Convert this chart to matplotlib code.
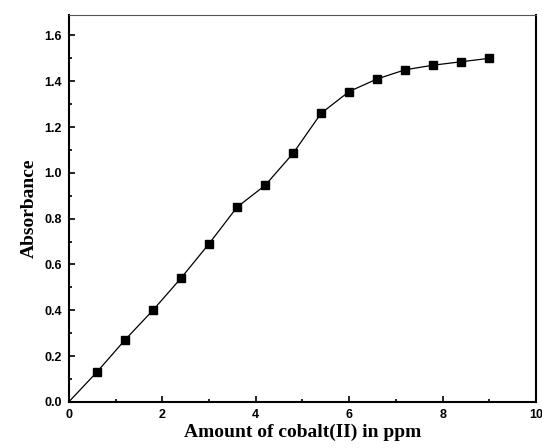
import numpy as np
import matplotlib
matplotlib.use('Agg')
import matplotlib.pyplot as plt
from matplotlib.ticker import MultipleLocator, FormatStrFormatter

# data
cobalt_ppm = [0.6, 1.2, 1.8, 2.4, 3.0, 3.6, 4.2, 4.8, 5.4, 6.0, 6.6, 7.2, 7.8, 8.4, 9.0]
absorbance = [0.13, 0.27, 0.40, 0.54, 0.69, 0.85, 0.945, 1.085, 1.26, 1.355, 1.41, 1.45, 1.47, 1.485, 1.50]

fig = plt.figure(figsize=(5.42, 4.48), dpi=100)
ax = fig.add_axes([0.127, 0.103, 0.862, 0.864])

# line starts at the origin, markers only on measured points
ax.plot([0] + cobalt_ppm, [0] + absorbance, color='black', lw=0.9)
ax.plot(cobalt_ppm, absorbance, 's', color='black', ms=5.5)

ax.set_xlim(0, 10)
ax.set_ylim(0, 1.69)
ax.xaxis.set_major_locator(MultipleLocator(2))
ax.xaxis.set_minor_locator(MultipleLocator(1))
ax.yaxis.set_major_locator(MultipleLocator(0.2))
ax.yaxis.set_minor_locator(MultipleLocator(0.1))
ax.xaxis.set_major_formatter(FormatStrFormatter('%d'))
ax.yaxis.set_major_formatter(FormatStrFormatter('%.1f'))

ax.tick_params(which='both', direction='in', width=1.2, labelsize=9)
ax.tick_params(which='major', length=4, pad=5)
ax.tick_params(which='minor', length=2)
for lbl in ax.get_xticklabels() + ax.get_yticklabels():
    lbl.set_fontweight('bold')
    lbl.set_family('Liberation Sans')

for side in ['left', 'bottom', 'right']:
    ax.spines[side].set_linewidth(1.5)
ax.spines['top'].set_linewidth(0.8)
ax.spines['top'].set_color('#555555')

ax.set_xlabel('Amount of cobalt(II) in ppm', fontsize=14, fontweight='bold',
              family='Liberation Serif', labelpad=2)
ax.set_ylabel('Absorbance', fontsize=14, fontweight='bold',
              family='Liberation Serif', labelpad=5)

fig.savefig('out.png', dpi=100)
